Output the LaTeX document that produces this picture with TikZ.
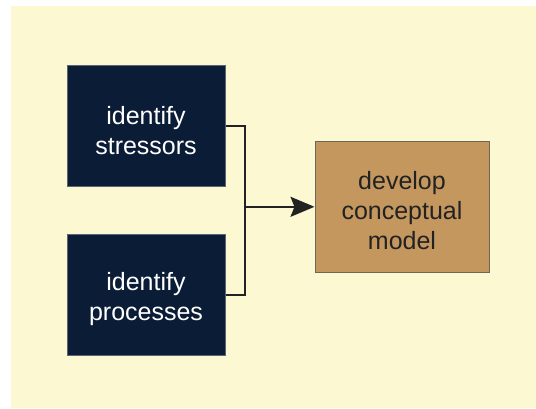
\documentclass[tikz,border=0pt]{standalone}
\usepackage{fontspec}
\setmainfont{Liberation Sans}
\usetikzlibrary{arrows.meta}
\definecolor{bgy}{HTML}{FCF9D2}
\definecolor{navy}{HTML}{0B1C36}
\definecolor{navyedge}{HTML}{5B6472}
\definecolor{tan}{HTML}{C4975E}
\definecolor{tanedge}{HTML}{6E6658}
\definecolor{ink}{HTML}{222222}
\tikzset{
  inbox/.style={rectangle, fill=navy, draw=navyedge, line width=1bp,
    minimum width=158bp, minimum height=121bp, inner sep=0pt},
  outbox/.style={rectangle, fill=tan, draw=tanedge, line width=1bp,
    minimum width=174bp, minimum height=131bp, inner sep=0pt},
  lbl/.style={align=center, inner sep=0pt, font=\fontsize{25bp}{30bp}\selectfont},
  conn/.style={draw=ink, line width=2bp},
}
\begin{document}
\begin{tikzpicture}[x=1bp, y=-1bp]
\useasboundingbox (0,0) rectangle (536,408);
\fill[white] (0,0) rectangle (536,408);
\fill[bgy] (11,6) rectangle (536,408);
\node[inbox] (s) at (146,126.2) {};
\node[inbox] (p) at (146,295.2) {};
\node[outbox] (m) at (402,206.8) {};
\node[lbl, text=white] (st) at ([yshift=-4bp]s.center) {identify\\stressors};
\node[lbl, text=white] (pt) at ([yshift=-4bp]p.center) {identify\\processes};
\node[lbl, text=ink] (mt) at ([yshift=-4bp]m.center) {develop\\conceptual\\model};
\draw[conn] (s.east) -- ++(19,0) coordinate (jt) -- (jt |- p.east) -- (p.east);
\draw[conn, -{Stealth[length=24bp, width=20bp, inset=4bp]}] (jt |- m.west) -- (m.west);
\end{tikzpicture}
\end{document}
